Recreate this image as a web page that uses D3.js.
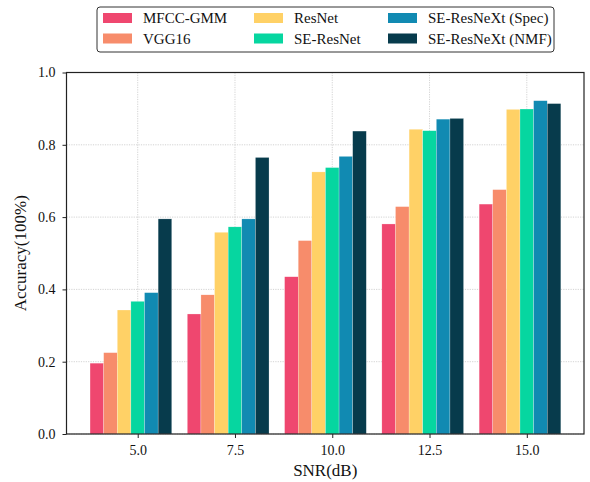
<!DOCTYPE html>
<html><head><meta charset="utf-8">
<script src="https://cdn.jsdelivr.net/npm/d3@7"></script>
<style>body{margin:0;background:#fff}svg{display:block}text{font-family:"Liberation Serif","Times New Roman",serif;fill:#111}</style>
</head><body><svg id="c" width="590" height="482"></svg>
<script>
const snr = [5.0, 7.5, 10.0, 12.5, 15.0];
const seriesNames = ["MFCC-GMM","VGG16","ResNet","SE-ResNet","SE-ResNeXt (Spec)","SE-ResNeXt (NMF)"];
const colors = ["#ef476f","#f78c6b","#ffd166","#06d6a0","#118ab2","#073b4c"];
const mfcc = [0.196, 0.332, 0.435, 0.581, 0.636];
const vgg = [0.225, 0.385, 0.535, 0.629, 0.676];
const resnet = [0.343, 0.558, 0.725, 0.843, 0.898];
const seresnet = [0.367, 0.573, 0.737, 0.839, 0.899];
const spec = [0.391, 0.595, 0.768, 0.871, 0.922];
const nmf = [0.595, 0.765, 0.838, 0.873, 0.914];
const yTicks = [0.0, 0.2, 0.4, 0.6, 0.8, 1.0];
const series = [mfcc, vgg, resnet, seresnet, spec, nmf];
const barW = 0.35;

const svg = d3.select("#c");
const m = {l:66.5, r:584, t:72.5, b:434};
const x = d3.scaleLinear().domain([3.17, 16.47]).range([m.l, m.r]);
const y = d3.scaleLinear().domain([0, 1]).range([m.b, m.t]);

// grid
const g = svg.append("g");
g.selectAll("line.gy").data(yTicks).join("line")
  .attr("x1", m.l).attr("x2", m.r).attr("y1", d=>y(d)).attr("y2", d=>y(d))
  .attr("stroke","#c8c8c8").attr("stroke-width",0.8).attr("stroke-dasharray","1.2,1.2");
g.selectAll("line.gx").data(snr).join("line")
  .attr("x1", d=>x(d)).attr("x2", d=>x(d)).attr("y1", m.t).attr("y2", m.b)
  .attr("stroke","#c8c8c8").attr("stroke-width",0.8).attr("stroke-dasharray","1.2,1.2");

// bars
series.forEach((vals, i) => {
  svg.append("g").selectAll("rect").data(vals).join("rect")
    .attr("x", (d,j)=>x(snr[j] + (i-3.5)*barW))
    .attr("width", x(barW) - x(0))
    .attr("y", d=>y(d))
    .attr("height", d=>y(0)-y(d))
    .attr("fill", colors[i])
    .attr("stroke","#fff").attr("stroke-width",0.4).attr("stroke-opacity",0.6);
});

// axes
const xa = svg.append("g").attr("transform",`translate(0,${m.b})`)
  .call(d3.axisBottom(x).tickValues(snr).tickFormat(d3.format(".1f")).tickSize(4).tickPadding(7));
const ya = svg.append("g").attr("transform",`translate(${m.l},0)`)
  .call(d3.axisLeft(y).tickValues(yTicks).tickFormat(d3.format(".1f")).tickSize(4).tickPadding(7));
[xa, ya].forEach(a => {
  a.attr("font-family", null);
  a.select(".domain").remove();
  a.selectAll("text").style("font-size","14px").style("font-family","'Liberation Serif',serif").attr("fill","#111");
  a.selectAll(".tick line").attr("stroke","#222").attr("stroke-width",1);
});
// frame
svg.append("rect").attr("x",m.l).attr("y",m.t).attr("width",m.r-m.l).attr("height",m.b-m.t)
  .attr("fill","none").attr("stroke","#222").attr("stroke-width",1.2);

// labels
svg.append("text").attr("x",(m.l+m.r)/2).attr("y",476).attr("text-anchor","middle")
  .style("font-size","17px").text("SNR(dB)");
svg.append("text").attr("transform",`translate(26,${(m.t+m.b)/2}) rotate(-90)`).attr("text-anchor","middle")
  .style("font-size","17px").text("Accuracy(100%)");

// legend
svg.append("rect").attr("x",97).attr("y",7).attr("width",457).attr("height",45).attr("rx",3)
  .attr("fill","#fff").attr("stroke","#333").attr("stroke-width",1);
const colX = [103, 254, 388];
const rowY = [18, 38.5];
seriesNames.forEach((n, i) => {
  const c = Math.floor(i/2), r = i%2;
  svg.append("rect").attr("x",colX[c]).attr("y",rowY[r]-5).attr("width",29).attr("height",10).attr("fill",colors[i]);
  svg.append("text").attr("x",colX[c]+40).attr("y",rowY[r]+5).style("font-size","15px").text(n);
});
</script></body></html>
